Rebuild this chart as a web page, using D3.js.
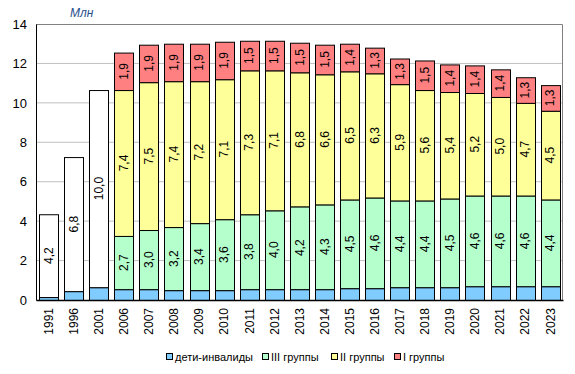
<!DOCTYPE html>
<html>
<head>
<meta charset="utf-8">
<script src="https://cdn.jsdelivr.net/npm/d3@7"></script>
<style>
  body { margin: 0; background: #fff; }
  text { font-family: Arial, "Liberation Sans", sans-serif; }
</style>
</head>
<body>
<div id="chart"></div>
<script>
// data
var years = ["1991","1996","2001","2006","2007","2008","2009","2010","2011","2012","2013","2014","2015","2016","2017","2018","2019","2020","2021","2022","2023"];
var children = [0.15,0.45,0.65,0.55,0.55,0.5,0.5,0.5,0.55,0.55,0.55,0.55,0.6,0.6,0.65,0.65,0.65,0.7,0.7,0.7,0.7];
var totalOld = [4.2,6.8,10.0,null,null,null,null,null,null,null,null,null,null,null,null,null,null,null,null,null,null];
var group3 = [null,null,null,2.7,3.0,3.2,3.4,3.6,3.8,4.0,4.2,4.3,4.5,4.6,4.4,4.4,4.5,4.6,4.6,4.6,4.4];
var group2 = [null,null,null,7.4,7.5,7.4,7.2,7.1,7.3,7.1,6.8,6.6,6.5,6.3,5.9,5.6,5.4,5.2,5.0,4.7,4.5];
var group1 = [null,null,null,1.9,1.9,1.9,1.9,1.9,1.5,1.5,1.5,1.5,1.4,1.3,1.3,1.5,1.4,1.4,1.4,1.3,1.3];
var yTicks = [0,2,4,6,8,10,12,14];
var legendLabels = ["дети-инвалиды","III  группы","II группы","I группы"];
var colors = ["#80CCFF","#B5FFCC","#FFFF99","#FF8080"];

var margin = {top: 24, right: 12, bottom: 74, left: 36},
    width = 575 - margin.left - margin.right,
    height = 374 - margin.top - margin.bottom;

var svg = d3.select("#chart")
  .append("svg")
    .attr("width", 575)
    .attr("height", 374)
  .append("g")
    .attr("transform", `translate(${margin.left},${margin.top})`);

var x = d3.scaleBand()
  .domain(years)
  .range([0, width])
  .paddingInner(0.23)
  .paddingOuter(0.12);

var y = d3.scaleLinear()
  .domain([0, 14])
  .range([height, 0]);

// gridlines
svg.append("g")
  .selectAll("line")
  .data(yTicks.filter(d => d > 0 && d < 14))
  .join("line")
    .attr("x1", 0).attr("x2", width)
    .attr("y1", d => y(d)).attr("y2", d => y(d))
    .attr("stroke", "#c0c0c0");

// plot area border top/right
svg.append("path")
  .attr("d", `M0,0.5H${width - 0.5}V${height}`)
  .attr("fill", "none")
  .attr("stroke", "#808080");

// build stacks
var rows = years.map(function(yr, i) {
  var segs = [];
  var base = 0;
  var parts = [
    {v: children[i], c: colors[0], label: false},
    {v: totalOld[i], c: "#ffffff", label: true},
    {v: group3[i], c: colors[1], label: true},
    {v: group2[i], c: colors[2], label: true},
    {v: group1[i], c: colors[3], label: true}
  ];
  parts.forEach(function(p) {
    if (p.v == null) return;
    segs.push({year: yr, y0: base, y1: base + p.v, v: p.v, c: p.c, label: p.label});
    base += p.v;
  });
  return segs;
});
var segs = rows.flat();

svg.append("g")
  .selectAll("rect")
  .data(segs)
  .join("rect")
    .attr("x", d => Math.round(x(d.year)) + 0.5)
    .attr("y", d => y(d.y1) + 0.5)
    .attr("width", Math.round(x.bandwidth()))
    .attr("height", d => y(d.y0) - y(d.y1))
    .attr("fill", d => d.c)
    .attr("stroke", "#000")
    .attr("stroke-width", 1);

// value labels
svg.append("g")
  .selectAll("text")
  .data(segs.filter(d => d.label))
  .join("text")
    .attr("transform", d => `translate(${x(d.year) + x.bandwidth() / 2 + 4},${y((d.y0 + d.y1) / 2)}) rotate(-90)`)
    .attr("text-anchor", "middle")
    .style("font-size", "12px")
    .text(d => d3.format(".1f")(d.v).replace(".", ","));

// y axis
var yAxis = svg.append("g")
  .call(d3.axisLeft(y).tickValues(yTicks).tickSize(0).tickPadding(9));
yAxis.select(".domain").attr("stroke", "#000");
yAxis.selectAll("text").style("font-size", "13px").attr("fill", "#000");

// x axis
var xAxis = svg.append("g")
  .attr("transform", `translate(0,${height})`)
  .call(d3.axisBottom(x).tickSize(0));
xAxis.select(".domain").attr("stroke", "#000").attr("stroke-width", 1.5);
xAxis.selectAll("text")
  .attr("transform", "rotate(-90)")
  .attr("x", -8)
  .attr("y", 0)
  .attr("dy", "0.35em")
  .style("text-anchor", "end")
  .style("font-size", "12px")
  .attr("fill", "#000");

// unit title
d3.select("svg").append("text")
  .attr("x", 70)
  .attr("y", 17)
  .style("font-size", "12px")
  .style("font-style", "italic")
  .attr("fill", "#1f4e8c")
  .text("Млн");

// legend
var legendX = [166, 262, 331, 394];
var legend = d3.select("svg").append("g")
  .selectAll("g")
  .data(legendLabels)
  .join("g")
    .attr("transform", (d, i) => `translate(${legendX[i]},353)`);
legend.append("rect")
  .attr("x", 0.5).attr("y", 0.5)
  .attr("width", 6).attr("height", 6)
  .attr("fill", (d, i) => colors[i])
  .attr("stroke", "#000");
legend.append("text")
  .attr("x", 9)
  .attr("y", 7.5)
  .style("font-size", "11px")
  .attr("fill", "#000")
  .text(d => d);
</script>
</body>
</html>
